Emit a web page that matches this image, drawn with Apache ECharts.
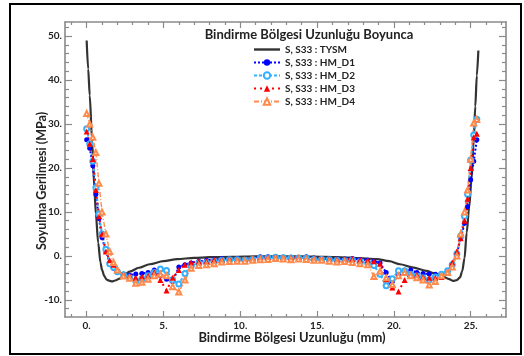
<!DOCTYPE html>
<html>
<head>
<meta charset="utf-8">
<script src="https://cdn.jsdelivr.net/npm/echarts@6/dist/echarts.min.js"></script>
<style>
  html, body { margin: 0; padding: 0; background: #fff; }
  #chart { width: 524px; height: 356px; }
</style>
</head>
<body>
<div id="chart"></div>
<script>
// TYSM model curve
const tysmX = [0, 0.1, 0.2, 0.35, 0.5, 0.6, 0.75, 0.9, 1.0, 1.15, 1.3, 1.5, 1.65, 1.85, 2.2, 2.8, 3.4, 4.1, 5.0, 5.9, 7.0, 8.0, 9.5, 11.0, 12.5, 14.0, 15.5, 17.1, 18.0, 18.9, 19.7, 20.4, 21.2, 22.1, 22.7, 23.2, 23.6, 23.87, 24.1, 24.3, 24.45, 24.6, 24.74, 24.9, 25.06, 25.2, 25.3, 25.4, 25.5]
const tysmY = [49, 42.5, 36.5, 26.5, 15.5, 9.5, 3.0, -1.5, -3.2, -4.6, -5.4, -5.7, -5.8, -5.6, -5.1, -3.6, -2.7, -1.9, -1.2, -0.75, -0.45, -0.3, -0.2, -0.1, -0.1, -0.1, -0.2, -0.4, -0.55, -0.75, -1.2, -1.9, -2.6, -3.4, -4.0, -4.7, -5.3, -5.7, -5.5, -4.9, -3.5, -0.5, 5.3, 11.0, 17.5, 26.5, 34.0, 41.0, 46.7]

// HM measurement series (shared x positions, mm)
const hmX = [0, 0.2, 0.4, 0.6, 0.8, 1.0, 1.25, 1.5, 1.75, 2.0, 2.4, 2.8, 3.2, 3.6, 4.0, 4.4, 4.8, 5.2, 5.6, 6.0, 6.4, 6.8, 7.3, 7.8, 8.3, 8.8, 9.3, 9.8, 10.3, 10.8, 11.3, 11.8, 12.3, 12.8, 13.3, 13.8, 14.3, 14.8, 15.3, 15.8, 16.3, 16.8, 17.3, 17.8, 18.3, 18.7, 19.1, 19.5, 19.9, 20.3, 20.7, 21.1, 21.5, 21.9, 22.3, 22.7, 23.1, 23.5, 23.8, 24.1, 24.35, 24.6, 24.8, 25.0, 25.2, 25.4]
const hmD1 = [26.4, 24.5, 20.5, 14.0, 8.5, 4.2, 1.0, -1.5, -2.8, -3.5, -4.2, -4.4, -4.1, -4.0, -3.8, -3.2, -4.5, -5.3, -5.8, -2.5, -2.0, -1.6, -1.2, -1.0, -0.8, -0.6, -0.7, -0.6, -0.8, -0.6, -0.2, -0.2, -0.3, -0.3, -0.3, -0.4, -0.2, -0.5, -0.6, -0.7, -0.7, -0.7, -0.6, -0.8, -1.0, -1.2, -1.6, -3.8, -5.8, -4.5, -3.6, -3.2, -3.8, -4.0, -4.1, -4.2, -4.3, -3.6, -2.0, 0.5, 4.0, 7.4, 11.2, 17.3, 21.5, 26.4]
const hmD2 = [28.9, 25.5, 21.5, 15.5, 9.5, 5.0, 1.5, -1.8, -2.6, -3.6, -4.3, -5.0, -5.7, -5.2, -4.5, -3.8, -3.0, -3.3, -5.5, -6.4, -4.0, -2.3, -1.6, -1.5, -1.2, -1.0, -0.9, -0.9, -1.0, -0.8, -0.5, -0.4, -0.3, -0.4, -0.5, -0.5, -0.5, -0.8, -0.8, -0.9, -1.0, -1.1, -1.0, -1.3, -1.6, -2.2, -4.2, -6.8, -5.2, -3.4, -3.4, -4.2, -4.6, -5.0, -5.5, -4.8, -4.2, -3.4, -2.0, 0.5, 4.5, 9.0, 14.0, 21.8, 27.5, 31.1]
const hmD3 = [28.3, 25.5, 22.0, 15.0, 9.0, 5.0, 1.0, -1.0, -2.0, -3.0, -4.2, -4.5, -5.0, -4.7, -4.5, -3.7, -5.5, -7.9, -5.0, -3.2, -2.0, -1.5, -1.3, -1.2, -0.9, -0.8, -0.7, -0.8, -1.0, -0.6, -0.4, -0.3, -0.2, -0.3, -0.4, -0.3, -0.5, -0.6, -0.6, -0.7, -0.8, -0.8, -0.7, -0.9, -1.0, -1.2, -1.8, -5.3, -7.2, -8.1, -5.5, -4.2, -4.3, -4.8, -5.0, -5.0, -4.8, -3.5, -1.5, 1.0, 4.0, 8.0, 13.0, 20.0, 27.0, 27.8]
const hmD4 = [32.4, 30.0, 27.0, 23.5, 16.5, 10.0, 5.0, 1.0, -1.5, -3.2, -4.6, -5.1, -6.2, -6.0, -5.3, -4.5, -4.2, -4.5, -7.0, -8.2, -5.5, -2.8, -2.2, -2.0, -1.8, -1.4, -1.3, -1.2, -1.2, -1.0, -0.9, -0.8, -0.6, -0.7, -0.9, -0.7, -0.8, -1.0, -1.0, -1.2, -1.4, -1.3, -1.5, -1.8, -2.0, -4.7, -3.5, -5.0, -6.5, -4.5, -3.8, -4.5, -5.0, -5.5, -6.6, -5.8, -4.5, -3.8, -2.5, 0.0, 5.0, 10.0, 15.0, 22.0, 30.2, 31.0]

const seriesNames = ['S, S33 : TYSM', 'S, S33 : HM_D1', 'S, S33 : HM_D2', 'S, S33 : HM_D3', 'S, S33 : HM_D4']

// tick positions
const xMajor = [0, 5, 10, 15, 20, 25]
const xMinor = [-1, 1, 2, 3, 4, 6, 7, 8, 9, 11, 12, 13, 14, 16, 17, 18, 19, 21, 22, 23, 24, 26, 27]
const yMajor = [-10, 0, 10, 20, 30, 40, 50]
const yMinor = [-12, -8, -6, -4, -2, 2, 4, 6, 8, 12, 14, 16, 18, 22, 24, 26, 28, 32, 34, 36, 38, 42, 44, 46, 48, 52]

const X_MIN = -1.41, X_MAX = 27.3
const Y_MIN = -13.9, Y_MAX = 53.2

const font = 'Lato'
const grey = '#8a8a8a'
const pts = (xs, ys) => xs.map((x, i) => [x, ys[i]])

// one axis = frame side + its ticks
function axis(pos, ticks, len, opts = {}) {
  const isX = pos === 'bottom' || pos === 'top'
  return Object.assign({
    type: 'value',
    position: pos,
    min: isX ? X_MIN : Y_MIN,
    max: isX ? X_MAX : Y_MAX,
    axisLine: { show: true, onZero: false, lineStyle: { color: grey, width: 1.6 } },
    axisTick: { show: true, inside: true, length: len, customValues: ticks, lineStyle: { color: grey, width: 1.2 } },
    axisLabel: { show: false },
    splitLine: { show: false },
  }, opts)
}

const tickLabel = {
  show: true, fontFamily: font, fontWeight: 'bold', fontSize: 10, color: '#222',
  formatter: (v) => v + '.',
}

const chart = echarts.init(document.getElementById('chart'))
chart.setOption({
  animation: false,
  backgroundColor: '#fff',
  grid: { left: 65, right: 18, top: 22, bottom: 39 },
  graphic: [
    { type: 'rect', shape: { x: 10, y: 4, width: 511, height: 350 }, style: { fill: 'none', stroke: '#000', lineWidth: 2 } },
    { type: 'text', x: 309, y: 35, style: { text: 'Bindirme Bölgesi Uzunluğu Boyunca', align: 'center', verticalAlign: 'middle', font: 'bold 13px Lato', fill: '#222' } },
    { type: 'text', x: 42, y: 181, rotation: Math.PI / 2, style: { text: 'Soyulma Gerilmesi (MPa)', align: 'center', verticalAlign: 'middle', font: 'bold 12.5px Lato', fill: '#222' } },
  ],
  legend: {
    orient: 'vertical', left: 253, top: 43, padding: 0,
    itemWidth: 26, itemHeight: 8, itemGap: 0,
    textStyle: { fontFamily: font, fontWeight: 'bold', fontSize: 10, color: '#222', lineHeight: 13 },
    data: [
      { name: seriesNames[0], icon: 'path://M0,0H26V2.4H0Z' },
      seriesNames[1], seriesNames[2], seriesNames[3], seriesNames[4],
    ],
  },
  xAxis: [
    axis('bottom', xMajor, 6, {
      axisLabel: Object.assign({ customValues: xMajor, margin: 4 }, tickLabel),
      name: 'Bindirme Bölgesi Uzunluğu (mm)', nameLocation: 'middle', nameGap: 14, nameMoveOverlap: false,
      nameTextStyle: { fontFamily: font, fontWeight: 'bold', fontSize: 13, color: '#222', padding: [0, 0, 0, 13] },
    }),
    axis('top', xMajor, 6),
    axis('bottom', xMinor, 3, { axisLine: { show: false, onZero: false } }),
    axis('top', xMinor, 3, { axisLine: { show: false, onZero: false } }),
  ],
  yAxis: [
    axis('left', yMajor, 7, {
      axisLabel: Object.assign({ customValues: yMajor, margin: 3 }, tickLabel),
    }),
    axis('right', yMajor, 7),
    axis('left', yMinor, 4, { axisLine: { show: false, onZero: false } }),
    axis('right', yMinor, 4, { axisLine: { show: false, onZero: false } }),
  ],
  series: [
    {
      name: seriesNames[0], type: 'line', data: pts(tysmX, tysmY),
      showSymbol: false, symbol: 'none', smooth: 0.3, smoothMonotone: 'x',
      lineStyle: { color: '#333', width: 2.2 }, itemStyle: { color: '#333' }, z: 2,
    },
    {
      name: seriesNames[1], type: 'line', data: pts(hmX, hmD1),
      symbol: 'circle', symbolSize: 5,
      lineStyle: { color: '#0000ff', width: 2, type: [2, 2] }, itemStyle: { color: '#0000ff' }, z: 3,
    },
    {
      name: seriesNames[2], type: 'line', data: pts(hmX, hmD2),
      symbol: 'emptyCircle', symbolSize: 5,
      lineStyle: { color: '#33b0ff', width: 2, type: [3, 2] }, itemStyle: { color: '#33b0ff', borderWidth: 1.5 }, z: 3,
    },
    {
      name: seriesNames[3], type: 'line', data: pts(hmX, hmD3),
      symbol: 'triangle', symbolSize: 6,
      lineStyle: { color: '#ff0000', width: 2, type: [2, 4] }, itemStyle: { color: '#ff0000' }, z: 3,
    },
    {
      name: seriesNames[4], type: 'line', data: pts(hmX, hmD4),
      symbol: 'emptyTriangle', symbolSize: 5,
      lineStyle: { color: '#ff8a4c', width: 1.4, type: [5, 2, 1, 2] }, itemStyle: { color: '#ff8a4c', borderWidth: 1 }, z: 3,
    },
  ],
})
</script>
</body>
</html>
